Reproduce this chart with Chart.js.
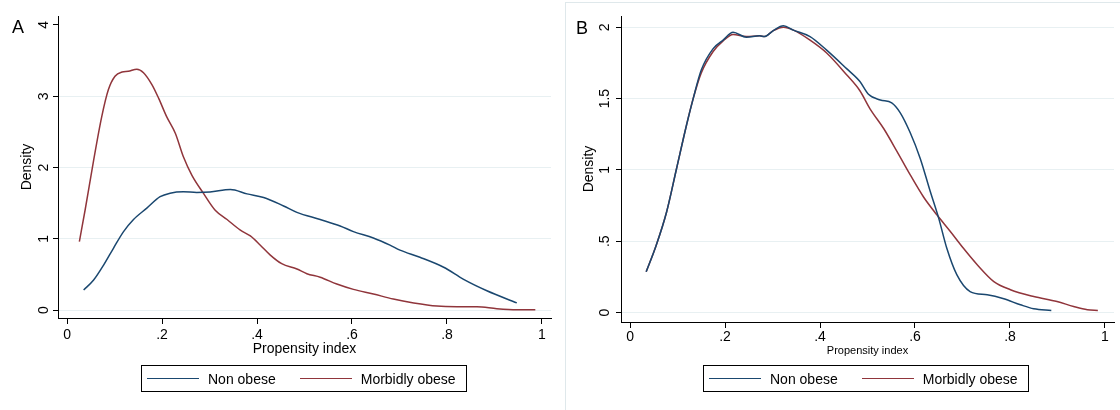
<!DOCTYPE html>
<html>
<head>
<meta charset="utf-8">
<script src="https://cdn.jsdelivr.net/npm/chart.js@4.4.1/dist/chart.umd.min.js"></script>
<style>
  html, body { margin: 0; padding: 0; background: #fff; }
  body { width: 1120px; height: 410px; position: relative; overflow: hidden; font-family: 'Liberation Sans', Arial, sans-serif; }
  .panel { position: absolute; top: 0; width: 560px; height: 410px; }
  .frame { position: absolute; left: 565px; top: 2px; width: 600px; height: 450px; border: 1px solid #dfe8eb; }
  .tag { position: absolute; font-size: 18px; line-height: 18px; color: #000; }
  .legend { position: absolute; top: 365px; height: 25px; border: 1px solid #000; display: flex; align-items: center;
            font-size: 14px; color: #000; padding-left: 5px; box-sizing: content-box; }
  .legend .item { display: flex; align-items: center; margin-right: 24px; }
  .legend .item:last-child { margin-right: 10px; }
  .legend .swatch { width: 52px; height: 0; border-top: 1.5px solid; margin-right: 9px; }
</style>
</head>
<body>
<div class="frame"></div>
<div class="panel" style="left:0"><canvas id="chartA" width="560" height="410"></canvas></div>
<div class="panel" style="left:560px"><canvas id="chartB" width="560" height="410"></canvas></div>
<div class="tag" style="left:12px;top:18px">A</div>
<div class="tag" style="left:576px;top:19px">B</div>
<div class="legend" id="legendA" style="left:141px"></div>
<div class="legend" id="legendB" style="left:703px"></div>

<script>
// series names
const seriesNames = ['Non obese', 'Morbidly obese'];

// Panel A: propensity index (x) and density (y)
const aNonObeseX = [0.035, 0.056, 0.077, 0.098, 0.119, 0.140, 0.168, 0.196, 0.217, 0.245, 0.273, 0.301, 0.344, 0.379, 0.414, 0.456, 0.484, 0.533, 0.575, 0.603, 0.645, 0.680, 0.701, 0.743, 0.793, 0.835, 0.884, 0.947];
const aNonObeseY = [0.28, 0.42, 0.63, 0.87, 1.10, 1.27, 1.43, 1.59, 1.64, 1.66, 1.65, 1.656, 1.69, 1.63, 1.58, 1.46, 1.37, 1.27, 1.18, 1.10, 1.01, 0.91, 0.84, 0.74, 0.60, 0.43, 0.27, 0.10];
const aMorbidX = [0.026, 0.038, 0.056, 0.073, 0.087, 0.101, 0.116, 0.129, 0.147, 0.161, 0.179, 0.193, 0.210, 0.228, 0.245, 0.263, 0.287, 0.312, 0.337, 0.365, 0.386, 0.407, 0.428, 0.452, 0.484, 0.505, 0.533, 0.568, 0.603, 0.645, 0.687, 0.730, 0.779, 0.821, 0.863, 0.905, 0.947, 0.986];
const aMorbidY = [0.96, 1.40, 2.10, 2.71, 3.09, 3.28, 3.34, 3.35, 3.38, 3.33, 3.16, 2.97, 2.71, 2.48, 2.15, 1.89, 1.64, 1.40, 1.27, 1.12, 1.04, 0.91, 0.77, 0.65, 0.575, 0.51, 0.46, 0.365, 0.29, 0.225, 0.154, 0.10, 0.056, 0.047, 0.047, 0.019, 0.005, 0.005];

// Panel B
const bNonObeseX = [0.034, 0.055, 0.077, 0.098, 0.119, 0.133, 0.150, 0.175, 0.196, 0.217, 0.245, 0.273, 0.283, 0.301, 0.323, 0.344, 0.379, 0.414, 0.456, 0.484, 0.502, 0.527, 0.551, 0.569, 0.590, 0.611, 0.632, 0.650, 0.667, 0.688, 0.716, 0.752, 0.787, 0.822, 0.850, 0.887];
const bNonObeseY = [0.285, 0.47, 0.705, 1.01, 1.315, 1.50, 1.70, 1.85, 1.91, 1.965, 1.93, 1.94, 1.935, 1.975, 2.01, 1.98, 1.935, 1.84, 1.71, 1.62, 1.53, 1.49, 1.47, 1.40, 1.26, 1.08, 0.85, 0.66, 0.45, 0.265, 0.147, 0.124, 0.096, 0.054, 0.026, 0.014];
const bMorbidX = [0.034, 0.055, 0.077, 0.098, 0.119, 0.133, 0.150, 0.175, 0.196, 0.217, 0.245, 0.273, 0.283, 0.301, 0.323, 0.344, 0.379, 0.414, 0.456, 0.484, 0.505, 0.534, 0.562, 0.590, 0.618, 0.646, 0.674, 0.702, 0.731, 0.766, 0.801, 0.850, 0.899, 0.934, 0.963, 0.985];
const bMorbidY = [0.285, 0.47, 0.705, 1.01, 1.315, 1.50, 1.68, 1.83, 1.905, 1.95, 1.935, 1.94, 1.935, 1.975, 2.0, 1.98, 1.91, 1.82, 1.667, 1.555, 1.43, 1.29, 1.13, 0.965, 0.81, 0.685, 0.57, 0.45, 0.335, 0.217, 0.16, 0.112, 0.077, 0.042, 0.019, 0.014];

// ticks
const xTickValues = [0, 0.2, 0.4, 0.6, 0.8, 1];
const xTickLabels = ['0', '.2', '.4', '.6', '.8', '1'];
const yTickValuesA = [0, 1, 2, 3, 4];
const yTickLabelsA = ['0', '1', '2', '3', '4'];
const yTickValuesB = [0, 0.5, 1, 1.5, 2];
const yTickLabelsB = ['0', '.5', '1', '1.5', '2'];

const BLUE = '#1a476f';
const RED  = '#90353b';
const GRID = '#e8f0f2';
const FONT = "'Liberation Sans', Arial, sans-serif";

function pts(xs, ys) { return xs.map((x, i) => ({ x, y: ys[i] })); }

function lineSet(label, data, color) {
  return {
    label, data,
    borderColor: color, backgroundColor: color,
    borderWidth: 1.5, pointRadius: 0, fill: false,
    cubicInterpolationMode: 'monotone'
  };
}

function makeChart(id, cfg) {
  const ctx = document.getElementById(id).getContext('2d');
  return new Chart(ctx, {
    type: 'line',
    data: { datasets: cfg.datasets },
    options: {
      responsive: false,
      animation: false,
      layout: { padding: { left: 0, right: cfg.padRight, top: 16, bottom: cfg.padBottom } },
      plugins: { legend: { display: false }, tooltip: { enabled: false } },
      scales: {
        x: {
          type: 'linear', min: -0.019, max: 1.019,
          afterBuildTicks: s => { s.ticks = xTickValues.map(v => ({ value: v })); },
          afterFit: s => { s.height = cfg.xHeight; },
          ticks: { callback: (v, i) => xTickLabels[i], color: '#000', font: { family: FONT, size: 14 },
                   padding: cfg.xTickPad, maxRotation: 0, autoSkip: false },
          grid: { drawOnChartArea: false, tickLength: 6, tickColor: '#000', lineWidth: 1 },
          border: { display: true, color: '#000', width: 1 },
          title: { display: true, text: 'Propensity index', color: '#000',
                   font: { family: FONT, size: cfg.xTitleSize }, padding: { top: 0, bottom: 0 } }
        },
        y: {
          type: 'linear', min: cfg.yMin, max: cfg.yMax,
          afterBuildTicks: s => { s.ticks = cfg.yTicks.map(v => ({ value: v })); },
          afterFit: s => { s.width = cfg.yWidth; },
          ticks: { callback: (v, i) => cfg.yLabels[i], color: '#000', font: { family: FONT, size: 14 },
                   minRotation: 90, maxRotation: 90, crossAlign: 'center', padding: cfg.yTickPad, autoSkip: false },
          grid: {
            color: c => (c.tick && cfg.noGrid.includes(c.tick.value)) ? 'rgba(0,0,0,0)' : GRID,
            tickLength: 5, tickColor: '#000', lineWidth: 1
          },
          border: { display: true, color: '#000', width: 1 },
          title: { display: true, text: 'Density', color: '#000',
                   font: { family: FONT, size: 14 }, padding: { top: cfg.yTitlePad, bottom: 0 } }
        }
      }
    }
  });
}

const chartA = makeChart('chartA', {
  datasets: [
    lineSet(seriesNames[0], pts(aNonObeseX, aNonObeseY), BLUE),
    lineSet(seriesNames[1], pts(aMorbidX, aMorbidY), RED)
  ],
  padRight: 9, padBottom: 52, xHeight: 40, xTickPad: 3, xTitleSize: 14,
  yMin: -0.112, yMax: 4.126, yTicks: yTickValuesA, yLabels: yTickLabelsA,
  yWidth: 58, yTickPad: 5, yTitlePad: 19, noGrid: [4]
});

const chartB = makeChart('chartB', {
  datasets: [
    lineSet(seriesNames[0], pts(bNonObeseX, bNonObeseY), BLUE),
    lineSet(seriesNames[1], pts(bMorbidX, bMorbidY), RED)
  ],
  padRight: 6, padBottom: 52, xHeight: 36, xTickPad: 1, xTitleSize: 11,
  yMin: -0.0666, yMax: 2.079, yTicks: yTickValuesB, yLabels: yTickLabelsB,
  yWidth: 61, yTickPad: 1, yTitlePad: 21, noGrid: []
});

// legends built from the chart datasets
function buildLegend(chart, elId) {
  const el = document.getElementById(elId);
  el.innerHTML = chart.data.datasets.map(d =>
    `<div class="item"><span class="swatch" style="border-color:${d.borderColor}"></span><span>${d.label}</span></div>`
  ).join('');
}
buildLegend(chartA, 'legendA');
buildLegend(chartB, 'legendB');
</script>
</body>
</html>
